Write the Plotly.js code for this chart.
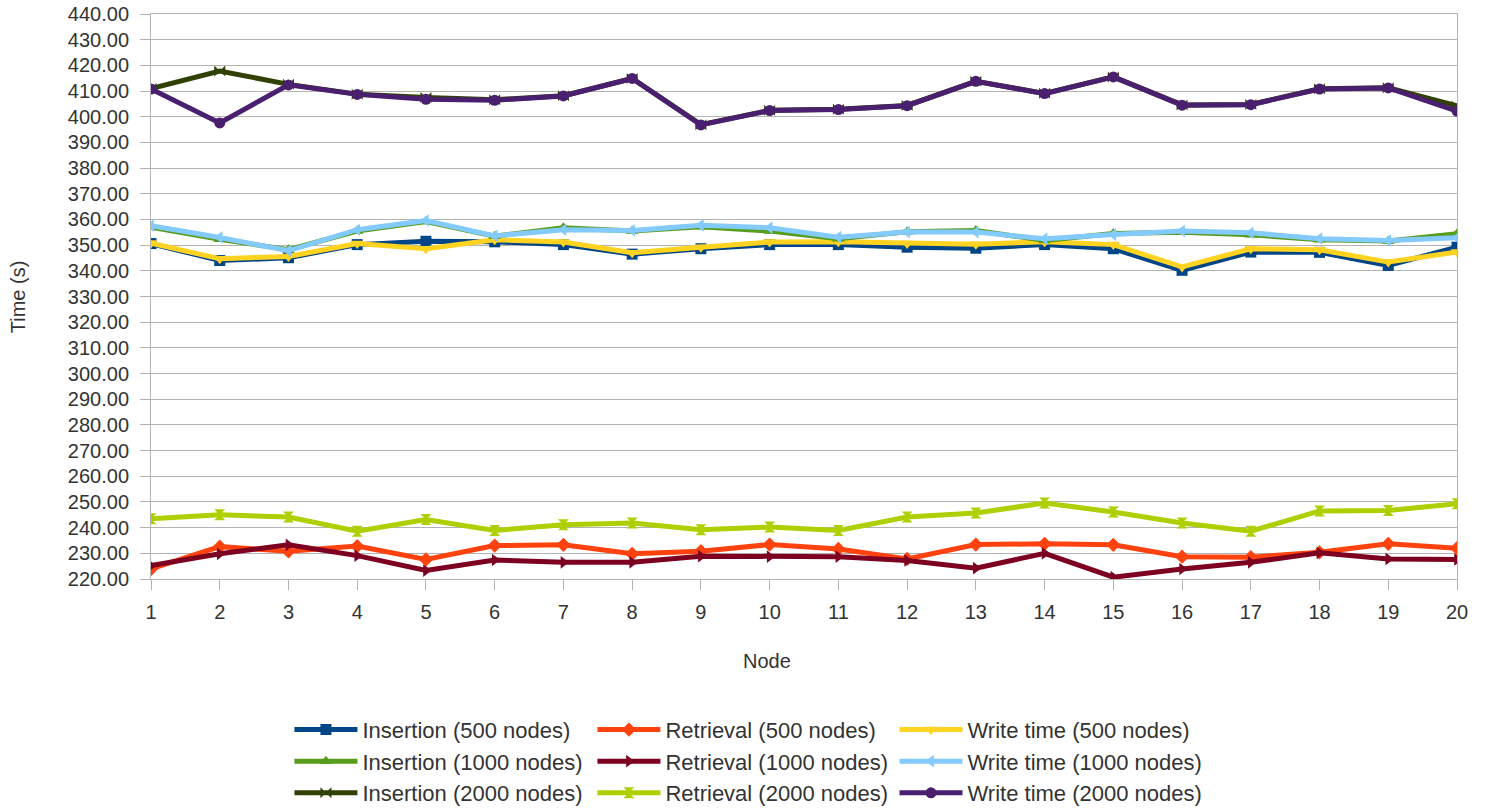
<!DOCTYPE html>
<html>
<head>
<meta charset="utf-8">
<script src="https://cdn.plot.ly/plotly-3.0.1.min.js"></script>
<style>html,body{margin:0;padding:0;background:#fff;}#chart{width:1487px;height:810px;}</style>
</head>
<body>
<div id="chart"></div>
<script>
const nodes = [1,2,3,4,5,6,7,8,9,10,11,12,13,14,15,16,17,18,19,20];

const insertion500  = [350.6,344.0,345.1,350.2,351.5,351.3,350.2,346.5,348.6,350.2,350.2,349.2,348.8,350.2,348.6,340.2,347.3,347.2,342.1,349.2];
const retrieval500  = [223.9,232.6,230.8,232.8,227.6,233.0,233.3,229.8,230.8,233.4,231.7,227.8,233.4,233.7,233.3,228.7,228.5,230.4,233.7,232.0];
const write500      = [350.8,344.7,345.6,350.6,348.6,352.1,351.2,347.0,349.2,351.2,351.3,350.6,350.3,351.3,350.2,341.5,348.6,348.2,343.4,347.3];
const insertion1000 = [357.0,352.3,348.2,355.5,359.2,353.5,356.8,355.5,357.2,355.5,352.5,355.2,355.7,351.8,354.5,355.0,354.0,352.1,351.6,354.4];
const retrieval1000 = [225.2,229.8,233.3,229.1,223.3,227.4,226.5,226.5,228.9,228.7,228.7,227.2,224.2,230.0,220.7,223.9,226.5,230.2,227.8,227.6];
const write1000     = [357.6,353.0,347.8,356.0,359.6,353.6,356.0,355.7,357.7,356.8,353.1,355.1,355.1,352.5,354.1,355.5,354.8,352.5,351.8,352.9];
const insertion2000 = [411.0,417.8,412.6,408.8,407.5,406.6,408.2,414.9,396.9,402.5,402.9,404.4,413.8,409.1,415.5,404.6,404.8,410.9,411.3,404.2];
const retrieval2000 = [243.5,245.0,244.1,238.6,243.2,238.9,241.1,241.8,239.2,240.2,238.9,244.1,245.7,249.6,246.1,241.8,238.6,246.5,246.7,249.3];
const write2000     = [410.8,397.6,412.4,408.7,406.8,406.4,408.1,414.9,396.8,402.4,402.8,404.3,413.8,409.0,415.5,404.5,404.7,410.8,411.2,402.2];

const seriesNames = [
  "Insertion (500 nodes)","Retrieval (500 nodes)","Write time (500 nodes)",
  "Insertion (1000 nodes)","Retrieval (1000 nodes)","Write time (1000 nodes)",
  "Insertion (2000 nodes)","Retrieval (2000 nodes)","Write time (2000 nodes)"
];
const seriesValues = [insertion500,retrieval500,write500,insertion1000,retrieval1000,write1000,insertion2000,retrieval2000,write2000];
const seriesColors = ["#004586","#ff420e","#ffd320","#579d1c","#7e0021","#83caff","#314004","#aecf00","#4b1f6f"];
const seriesSymbols = ["square","diamond","triangle-down","triangle-up","triangle-right","triangle-left","bowtie","hourglass","circle"];
const legendIds = ["legend","legend2","legend3"];

const yTicks = [];
for (let v = 220; v <= 440; v += 10) yTicks.push(v);

const traces = seriesNames.map((n,i)=>({
  x: nodes, y: seriesValues[i], name: n, type: "scatter", mode: "lines+markers",
  legend: legendIds[i % 3],
  line: {color: seriesColors[i], width: 5},
  marker: {symbol: seriesSymbols[i], size: 11, color: seriesColors[i]}
}));

const font = "Liberation Sans, Arial, sans-serif";
function legendAt(x) {
  return {
    orientation: "v", x: x, xanchor: "left", y: -0.2297, yanchor: "top",
    traceorder: "normal", tracegroupgap: 0,
    font: {family: font, size: 22, color: "#333333"},
    itemwidth: 63, bgcolor: "rgba(0,0,0,0)"
  };
}
const layout = {
  width: 1487, height: 810,
  paper_bgcolor: "#fff", plot_bgcolor: "#fff",
  margin: {l: 151, r: 30, t: 14, b: 231, pad: 0, autoexpand: false},
  font: {family: font, size: 20, color: "#333333"},
  showlegend: true,
  xaxis: {
    range: [1, 20], tickvals: nodes, ticktext: nodes.map(String),
    showgrid: false, zeroline: false,
    showline: true, linecolor: "#b3b3b3", linewidth: 1, mirror: true,
    ticks: "outside", ticklen: 10, tickcolor: "#b3b3b3", tickwidth: 1,
    ticklabelstandoff: 5,
    tickfont: {family: font, size: 20, color: "#333333"}
  },
  yaxis: {
    range: [220, 440], tickvals: yTicks, tickformat: ".2f",
    showgrid: true, gridcolor: "#b3b3b3", gridwidth: 1, zeroline: false,
    showline: true, linecolor: "#b3b3b3", linewidth: 1, mirror: true,
    ticks: "outside", ticklen: 10, tickcolor: "#b3b3b3", tickwidth: 1,
    ticklabelstandoff: 7,
    tickfont: {family: font, size: 20, color: "#333333"}
  },
  annotations: [
    {text: "Time (s)", xref: "paper", yref: "paper", x: -0.102, y: 0.5, xanchor: "center", yanchor: "middle",
     textangle: -90, showarrow: false, font: {family: font, size: 20, color: "#333333"}},
    {text: "Node", xref: "paper", yref: "paper", x: 0.472, y: -0.145, xanchor: "center", yanchor: "middle",
     showarrow: false, font: {family: font, size: 20, color: "#333333"}}
  ],
  legend: legendAt(0.106),
  legend2: legendAt(0.338),
  legend3: legendAt(0.5693)
};

Plotly.newPlot("chart", traces, layout, {displayModeBar: false, staticPlot: true});
</script>
</body>
</html>
